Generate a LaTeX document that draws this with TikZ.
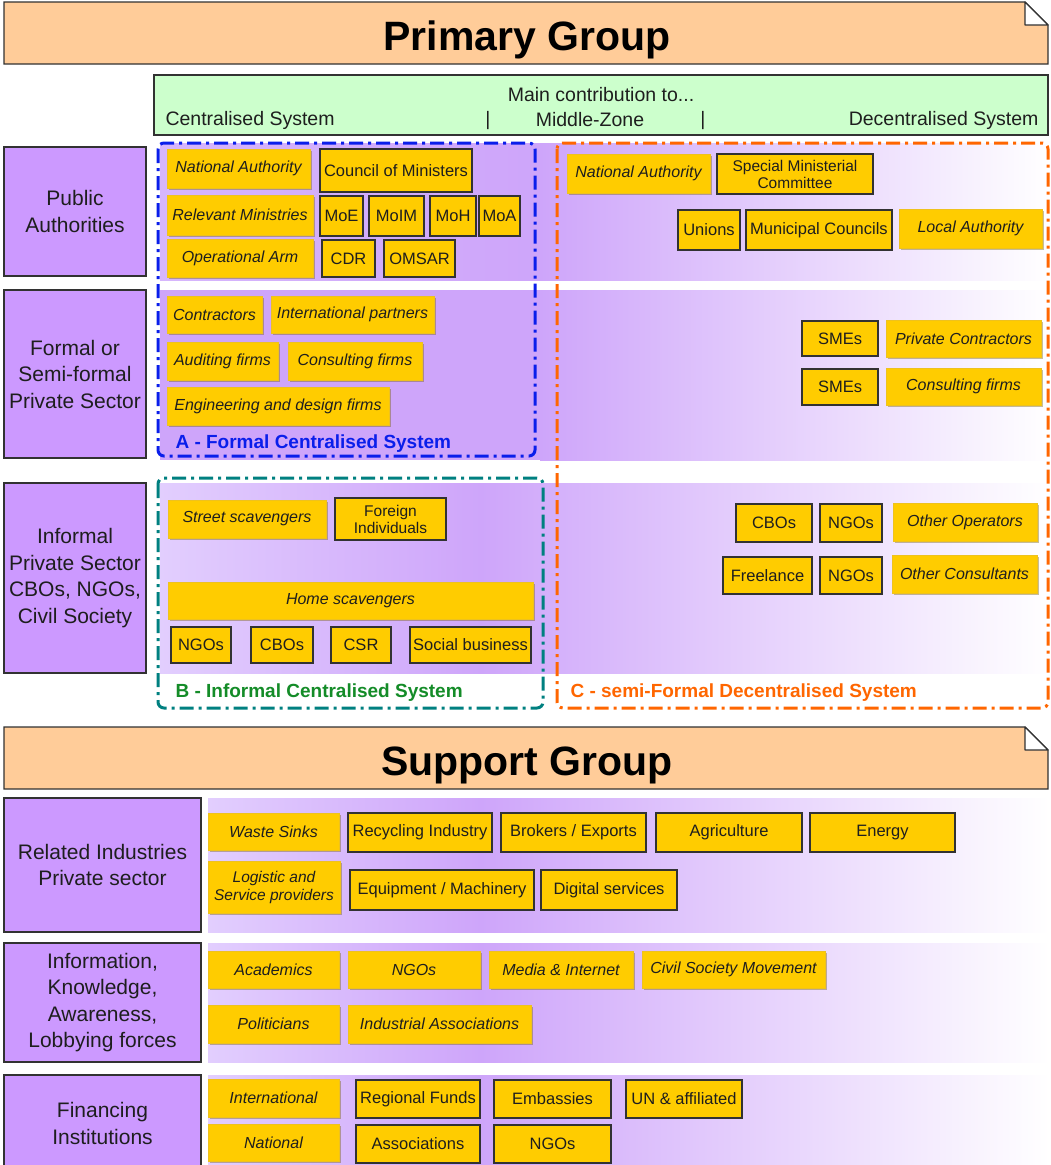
\documentclass[tikz,border=0pt]{standalone}
\usepackage{fontspec}
\setmainfont{Liberation Sans}
\usetikzlibrary{shadows}

\definecolor{peach}{RGB}{255,204,153}
\definecolor{mint}{RGB}{204,255,204}
\definecolor{lilac}{RGB}{204,153,255}
\definecolor{lilacbg}{RGB}{206,165,250}
\definecolor{lilaclt}{RGB}{226,206,254}
\definecolor{lilacmid}{RGB}{214,182,252}
\definecolor{gold}{RGB}{255,204,0}
\definecolor{goldedge}{RGB}{238,194,30}
\definecolor{lineblue}{RGB}{10,30,235}
\definecolor{lineteal}{RGB}{0,128,128}
\definecolor{labgreen}{RGB}{20,140,40}
\definecolor{lineorange}{RGB}{255,102,0}
\definecolor{edge}{RGB}{50,50,50}
\definecolor{ink}{RGB}{30,30,30}

\tikzset{
  basebox/.style={inner sep=0pt, align=center, text=ink,
    font=\fontsize{16.5}{18}\selectfont},
  ibox/.style={basebox, fill=gold, draw=goldedge, line width=0.6pt,
    font=\fontsize{16}{18}\selectfont\itshape,
    drop shadow={shadow xshift=1.5pt, shadow yshift=-1.5pt, fill=black!55!gold, opacity=0.4}},
  ubox/.style={basebox, fill=gold, draw=edge, line width=1.4pt},
  grp/.style={inner sep=0pt, fill=lilac, draw=edge, line width=1.4pt, align=center,
    text=ink, font=\fontsize{21}{26.5}\selectfont},
  banner/.style={fill=peach, draw=edge, line width=1.4pt},
  zone/.style={line width=3pt, rounded corners=6pt,
    dash pattern=on 14pt off 5pt on 3pt off 5pt},
  zonelabel/.style={anchor=base west, font=\bfseries\fontsize{19}{20}\selectfont},
  bartext/.style={text=ink, font=\fontsize{19.5}{20}\selectfont},
  title/.style={text=black, font=\bfseries\fontsize{41}{42}\selectfont},
}

% box given by its corners: style, name, x1, y1, x2, y2, text
\newcommand\ybx[7]{%
  \node[#1, minimum width={(#5-#3)*1pt}, minimum height={(#6-#4)*1pt}]
    (#2) at ({(#3+#5)/2},{(#4+#6)/2}) {#7};}

\begin{document}
\begin{tikzpicture}[x=1pt, y=-1pt]
\useasboundingbox (0,0) rectangle (1050,1165);
\fill[white] (0,0) rectangle (1050,1165);

% ---------- Primary Group banner ----------
\draw[banner] (4,2) -- (1025,2) -- (1048,25) -- (1048,64) -- (4,64) -- cycle;
\draw[fill=white, draw=edge, line width=1.2pt, line join=round]
  (1025,2) -- (1025,25) -- (1048,25) -- cycle;
\node[title] (ptitle) at (527,40) {Primary Group};

% ---------- contribution bar ----------
\draw[fill=mint, draw=edge, line width=1.2pt] (154,75) rectangle (1048,135);
\node[bartext] (maincontrib) at (601,95) {Main contribution to...};
\node[bartext, anchor=west] (central) at (162,120) {Centralised System};
\node[bartext] (sep1) at (488,120) {|};
\node[bartext] (middle) at (590,120) {Middle-Zone};
\node[bartext] (sep2) at (703,120) {|};
\node[bartext, anchor=east] (decentral) at (1042,120) {Decentralised System};

% ---------- row backgrounds (primary) ----------
\shade[left color=lilacmid, right color=lilacbg] (160,143) rectangle (541,280);
\shade[left color=lilacbg, right color=white] (540,143) rectangle (1050,280);
\fill[lilacbg] (160,290) rectangle (541,460);
\shade[left color=lilacbg, right color=white] (540,290) rectangle (1050,460);
\shade[left color=lilaclt, right color=lilacbg] (160,483) rectangle (481,673);
\shade[left color=lilacbg, right color=white] (480,483) rectangle (1050,673);

% ---------- system zones ----------
\draw[zone, lineblue] (158,143) rectangle (535,456);
\draw[zone, lineteal] (158,478) rectangle (543,708);
\draw[zone, lineorange] (557,143) rectangle (1048,708);
\node[zonelabel, text=lineblue] (labA) at (172,448) {A - Formal Centralised System};
\node[zonelabel, text=labgreen] (labB) at (172,697) {B - Informal Centralised System};
\node[zonelabel, text=lineorange] (labC) at (567,697) {C - semi-Formal Decentralised System};

% ---------- primary group actors ----------
\ybx{grp}{pa}{4}{147}{146}{276}{Public\\Authorities}
\ybx{grp}{fps}{4}{290}{146}{458}{Formal or\\Semi-formal\\Private Sector}
\ybx{grp}{ips}{4}{483}{146}{673}{Informal\\Private Sector\\CBOs, NGOs,\\Civil Society}

% public authorities, centralised
\ybx{ibox}{na1}{167}{149}{310}{188}{National Authority}
\ybx{ubox}{com}{320}{149}{472}{192}{Council of Ministers}
\ybx{ibox}{relm}{167}{195}{313}{235}{Relevant Ministries}
\ybx{ubox}{moe}{320}{196}{363}{236}{MoE}
\ybx{ubox}{moim}{369}{196}{424}{236}{MoIM}
\ybx{ubox}{moh}{430}{196}{476}{236}{MoH}
\ybx{ubox}{moa}{479}{196}{520}{236}{MoA}
\ybx{ibox}{oparm}{167}{239}{313}{277}{Operational Arm}
\ybx{ubox}{cdr}{322}{240}{375}{277}{CDR}
\ybx{ubox}{omsar}{384}{240}{455}{277}{OMSAR}

% public authorities, decentralised
\ybx{ibox}{na2}{567}{154}{710}{193}{National Authority}
\ybx{ubox, font=\fontsize{15.5}{17}\selectfont}{smc}{717}{154}{873}{194}{Special Ministerial\\Committee}
\ybx{ubox}{unions}{678}{210}{740}{250}{Unions}
\ybx{ubox}{munc}{746}{210}{892}{250}{Municipal Councils}
\ybx{ibox}{la}{899}{209}{1042}{248}{Local Authority}

% formal private sector
\ybx{ibox}{contr}{167}{296}{262}{333}{Contractors}
\ybx{ibox}{intp}{271}{296}{434}{333}{International partners}
\ybx{ibox}{audf}{167}{342}{278}{380}{Auditing firms}
\ybx{ibox}{consf}{288}{342}{422}{380}{Consulting firms}
\ybx{ibox}{engf}{167}{387}{389}{425}{Engineering and design firms}
\ybx{ubox}{sme1}{802}{321}{878}{356}{SMEs}
\ybx{ibox}{privc}{886}{320}{1041}{357}{Private Contractors}
\ybx{ubox}{sme2}{802}{369}{878}{405}{SMEs}
\ybx{ibox}{consf2}{886}{368}{1041}{405}{Consulting firms}

% informal sector
\ybx{ibox}{streets}{168}{500}{326}{538}{Street scavengers}
\ybx{ubox, font=\fontsize{15.5}{17}\selectfont}{foreign}{335}{498}{446}{540}{Foreign\\Individuals}
\ybx{ibox}{homes}{168}{582}{533}{619}{Home scavengers}
\ybx{ubox}{ngo1}{171}{627}{231}{663}{NGOs}
\ybx{ubox}{cbo1}{251}{627}{313}{663}{CBOs}
\ybx{ubox}{csr}{331}{627}{391}{663}{CSR}
\ybx{ubox}{socb}{410}{627}{531}{663}{Social business}
\ybx{ubox}{cbo2}{736}{504}{812}{542}{CBOs}
\ybx{ubox}{ngo2}{820}{504}{882}{542}{NGOs}
\ybx{ibox}{otherop}{893}{503}{1037}{541}{Other Operators}
\ybx{ubox}{freel}{723}{557}{812}{594}{Freelance}
\ybx{ubox}{ngo3}{820}{557}{882}{594}{NGOs}
\ybx{ibox}{othercons}{892}{555}{1037}{593}{Other Consultants}

% ---------- Support Group banner ----------
\draw[banner] (4,727) -- (1025,727) -- (1048,750) -- (1048,789) -- (4,789) -- cycle;
\draw[fill=white, draw=edge, line width=1.2pt, line join=round]
  (1025,727) -- (1025,750) -- (1048,750) -- cycle;
\node[title] (stitle) at (527,765) {Support Group};

% ---------- row backgrounds (support) ----------
\shade[left color=lilaclt, right color=lilacbg] (208,798) rectangle (481,932);
\shade[left color=lilacbg, right color=white] (480,798) rectangle (1050,932);
\shade[left color=lilaclt, right color=lilacbg] (208,943) rectangle (481,1062);
\shade[left color=lilacbg, right color=white] (480,943) rectangle (1050,1062);
\shade[left color=lilaclt, right color=lilacbg] (208,1075) rectangle (481,1172);
\shade[left color=lilacbg, right color=white] (480,1075) rectangle (1050,1172);

\ybx{grp}{rel}{4}{798}{201}{932}{Related Industries\\Private sector}
\ybx{grp}{info}{4}{943}{201}{1062}{Information,\\Knowledge,\\Awareness,\\Lobbying forces}
\ybx{grp}{fin}{4}{1075}{201}{1172}{Financing\\Institutions}

% related industries
\ybx{ibox}{wsinks}{208}{813}{339}{850}{Waste Sinks}
\ybx{ubox}{recyc}{348}{813}{492}{852}{Recycling Industry}
\ybx{ubox}{brok}{501}{813}{646}{852}{Brokers / Exports}
\ybx{ubox}{agri}{656}{813}{802}{852}{Agriculture}
\ybx{ubox}{energy}{810}{813}{955}{852}{Energy}
\ybx{ibox, font=\fontsize{15.5}{18}\selectfont\itshape}{logis}{208}{861}{340}{913}{Logistic and\\Service providers}
\ybx{ubox}{equip}{350}{870}{534}{910}{Equipment / Machinery}
\ybx{ubox}{digit}{541}{870}{677}{910}{Digital services}

% information and lobbying
\ybx{ibox}{acad}{208}{951}{339}{988}{Academics}
\ybx{ibox}{ngo4}{348}{951}{480}{988}{NGOs}
\ybx{ibox}{media}{489}{951}{633}{988}{Media \& Internet}
\ybx{ibox}{civsoc}{642}{951}{825}{988}{Civil Society Movement}
\ybx{ibox}{polit}{208}{1005}{339}{1043}{Politicians}
\ybx{ibox}{indas}{348}{1005}{531}{1043}{Industrial Associations}

% financing
\ybx{ibox}{intl}{208}{1079}{339}{1117}{International}
\ybx{ubox}{regf}{356}{1080}{480}{1118}{Regional Funds}
\ybx{ubox}{emb}{494}{1080}{611}{1118}{Embassies}
\ybx{ubox}{unaff}{626}{1080}{742}{1118}{UN \& affiliated}
\ybx{ibox}{natl}{208}{1124}{339}{1161}{National}
\ybx{ubox}{assoc}{356}{1125}{480}{1163}{Associations}
\ybx{ubox}{ngo5}{494}{1125}{611}{1163}{NGOs}
\end{tikzpicture}
\end{document}
